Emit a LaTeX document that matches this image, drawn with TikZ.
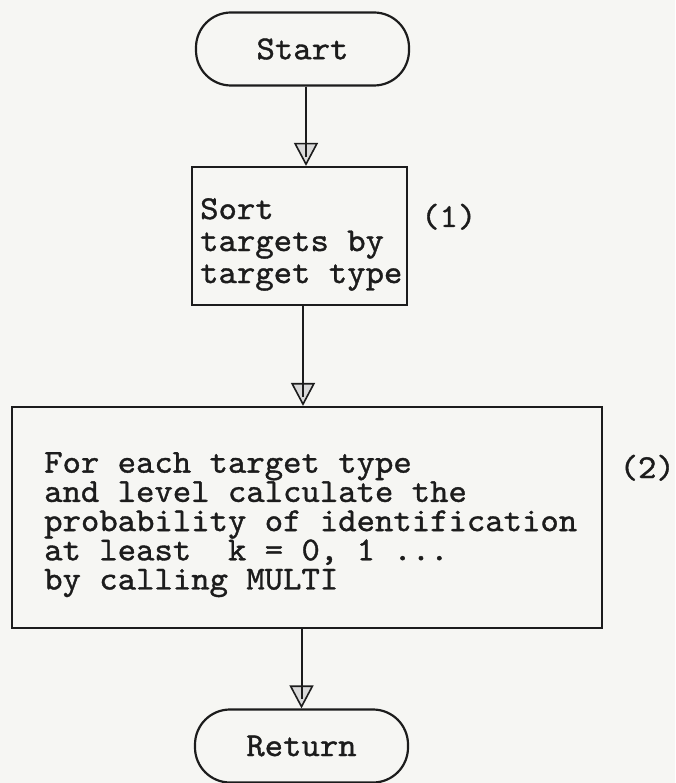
\documentclass[tikz,border=0pt]{standalone}
\usepackage{fontspec}
\usetikzlibrary{arrows.meta}
% typewriter face: Latin Modern Mono, slightly heavier and wider
\newfontfamily\typewriter{lmmono10-regular.otf}[FakeBold=1.1, FakeStretch=1.045]
\definecolor{paper}{RGB}{246,246,243}
\definecolor{ink}{RGB}{28,28,28}
\newcommand{\typeface}[1]{\fontsize{33.5}{#1}\selectfont\typewriter}
\tikzset{
  terminal/.style={draw=ink, line width=2.2pt, rounded corners=35pt,
    minimum width=213pt, minimum height=73pt, inner sep=0pt,
    font=\typeface{34}, text=ink},
  process/.style={draw=ink, line width=2.2pt, inner sep=0pt},
  body/.style={inner sep=0pt, align=left, anchor=north west, text=ink},
  tag/.style={inner sep=0pt, anchor=base west, text=ink, font=\typeface{34}},
  flow/.style={draw=ink, line width=2pt,
    -{Triangle[open, length=23pt, width=24pt, fill=gray!30, line width=1.6pt]},
    postaction={draw=ink, line width=2pt, -, shorten >=9pt}}
}
\begin{document}
\begin{tikzpicture}[x=1pt, y=-1pt]
  % page
  \fill[paper] (0,0) rectangle (675,783);
  \useasboundingbox (0,0) rectangle (675,783);

  % terminals and process boxes
  \node[terminal] (start) at (302.5,49) {Start};
  \node[process, minimum width=215pt, minimum height=138pt] (sortbox) at (299.5,236) {};
  \node[body, font=\typeface{32}] (sorttext) at (200,198)
    {Sort\\targets by\\target type};
  \node[tag] (n1) at (421,227) {(1)};

  \node[process, minimum width=590pt, minimum height=221pt] (probbox) at (307,517.5) {};
  \node[body, font=\typeface{29.2}] (probtext) at (44,452)
    {For each target type\\and level calculate the\\probability of identification\\at least\ \ k = 0, 1 ...\\by calling MULTI};
  \node[tag, anchor=base east] (n2) at (675,478) {(2)};

  \node[terminal] (ret) at (301.5,746) {Return};

  % flow lines
  \draw[flow] ([xshift=3.5pt]start.south) -- ([xshift=3.5pt]start.south |- sortbox.north);
  \draw[flow] ([xshift=3.5pt]sortbox.south) -- ([xshift=3.5pt]sortbox.south |- probbox.north);
  \draw[flow] (probbox.south -| ret.north) -- (ret.north);
\end{tikzpicture}
\end{document}
